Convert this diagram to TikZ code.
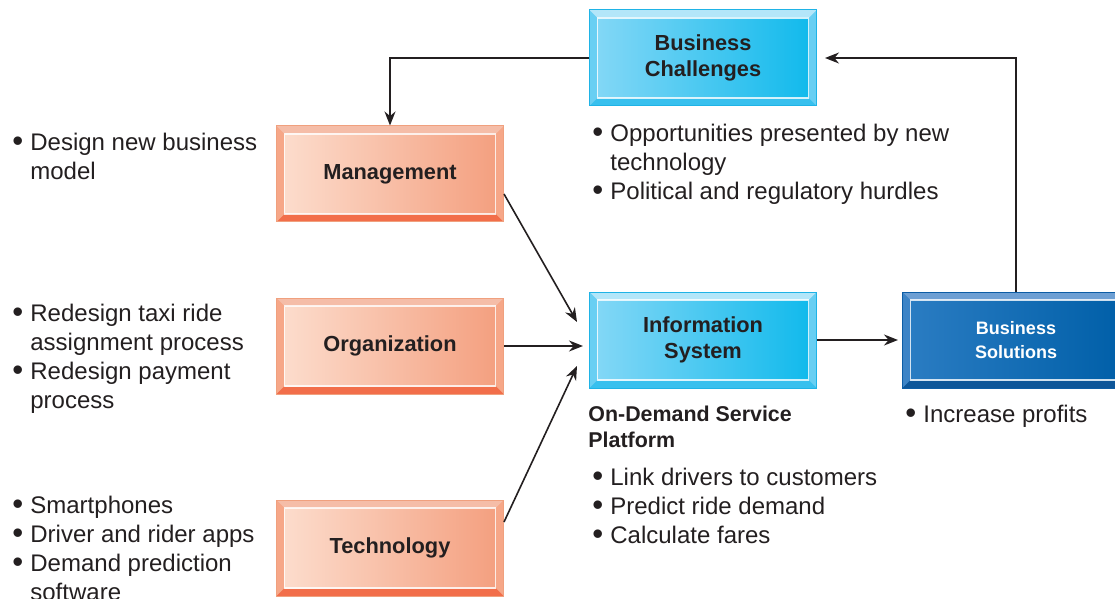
\documentclass[tikz,border=0pt]{standalone}
\usepackage{fontspec}
\setmainfont{Liberation Sans}
\usetikzlibrary{arrows.meta,positioning,calc}
\definecolor{inktext}{HTML}{231F20}
% salmon boxes
\definecolor{salmonL}{HTML}{FCDCCC}
\definecolor{salmonR}{HTML}{F4A080}
\definecolor{salmonTop}{HTML}{F5BDA8}
\definecolor{salmonBot}{HTML}{F26E4A}
\definecolor{salmonSide}{HTML}{F6A788}
\definecolor{salmonEdge}{HTML}{F0A07E}
% light blue boxes
\definecolor{skyL}{HTML}{82D7F6}
\definecolor{skyR}{HTML}{12BAEC}
\definecolor{skyTop}{HTML}{B3E6F9}
\definecolor{skyBot}{HTML}{38C0EE}
\definecolor{skySide}{HTML}{68CFF3}
\definecolor{skyEdge}{HTML}{1FB3E6}
% dark blue box
\definecolor{navyL}{HTML}{2A7CC2}
\definecolor{navyR}{HTML}{005FA8}
\definecolor{navyTop}{HTML}{6D9FD3}
\definecolor{navyBot}{HTML}{0D5699}
\definecolor{navySide}{HTML}{3D84C6}
\definecolor{navyEdge}{HTML}{0D5DA5}
\newcommand{\bl}{\makebox[9pt][l]{\smash{\raisebox{-0.6pt}{\scalebox{1.3}{\textbullet}}}}}
\newcommand{\ind}{\hspace*{9pt}}
\newcommand{\bodyfont}{\fontsize{12}{14.4}\selectfont}

\tikzset{
  bevelbox/.style n args={6}{draw=#6, line width=0.5pt, inner sep=2pt,
    minimum width=113.5pt, minimum height=48pt, align=center,
    font=\fontsize{10.9}{13}\selectfont\bfseries, text=inktext,
    path picture={
      \path (path picture bounding box.south west) coordinate (bsw)
            (path picture bounding box.north east) coordinate (bne);
      \fill[#5] (bsw) rectangle (bne);
      \fill[#3] (bsw |- bne) -- (bne) -- ([shift={(-4pt,-4pt)}]bne)
        -- ([shift={(4pt,-4pt)}]bsw |- bne) -- cycle;
      \fill[#4] (bsw) -- (bsw -| bne) -- ([shift={(-4pt,4pt)}]bsw -| bne)
        -- ([shift={(4pt,4pt)}]bsw) -- cycle;
      \shade[left color=#1, right color=#2]
        ([shift={(4pt,4pt)}]bsw) rectangle ([shift={(-4pt,-4pt)}]bne);
      \draw[white, line width=0.6pt, opacity=0.8]
        ([shift={(4pt,4pt)}]bsw) rectangle ([shift={(-4pt,-4pt)}]bne);
    }},
  salmonbox/.style={bevelbox={salmonL}{salmonR}{salmonTop}{salmonBot}{salmonSide}{salmonEdge}},
  bluebox/.style={bevelbox={skyL}{skyR}{skyTop}{skyBot}{skySide}{skyEdge}},
  darkbox/.style={bevelbox={navyL}{navyR}{navyTop}{navyBot}{navySide}{navyEdge},
    text=white, font=\fontsize{9}{12}\selectfont\bfseries},
  notes/.style={anchor=north west, inner sep=0pt, align=left, text=inktext,
    font=\bodyfont},
  arrow/.style={-{Stealth[length=7pt,width=5.5pt]}, line width=0.8pt, inktext}
}

\begin{document}
\begin{tikzpicture}[x=0.5pt,y=-0.5pt]
  \useasboundingbox (0,0) rectangle (1115,599);

  % boxes
  \node[bluebox] (chal) at (703,58) {Business\\Challenges};
  \node[salmonbox] (mgmt) at (390,174) {Management};
  \node[salmonbox] (org) at (390,346) {Organization};
  \node[salmonbox] (tech) at (390,548) {Technology};
  \node[bluebox] (info) at (703,340) {Information\\System};
  \node[darkbox] (sol) at (1016,340) {Business\\Solutions};

  % notes
  \node[notes] (mgmtnotes) at (12,133) {\bl Design new business\\\ind model};
  \node[notes] (orgnotes) at (12,304) {\bl Redesign taxi ride\\\ind assignment process\\
    \bl Redesign payment\\\ind process};
  \node[notes] (technotes) at (12,496) {\bl Smartphones\\\bl Driver and rider apps\\
    \bl Demand prediction\\\ind software};
  \node[notes] (chalnotes) at (592,124) {\bl Opportunities presented by new\\
    \ind technology\\\bl Political and regulatory hurdles};
  \node[notes, font=\fontsize{10.7}{13}\selectfont\bfseries] (platform) at (588,406)
    {On-Demand Service\\Platform};
  \node[notes] (infonotes) at (592,468) {\bl Link drivers to customers\\
    \bl Predict ride demand\\\bl Calculate fares};
  \node[notes] (solnotes) at (905,405) {\bl Increase profits};

  % connectors
  \draw[arrow] (chal.west) -| (mgmt.north);
  \draw[arrow] ([yshift=-10pt]mgmt.east) -- ([xshift=-6pt,yshift=9pt]info.west);
  \draw[arrow] (org.east) -- ([xshift=-3pt]org.east -| info.west);
  \draw[arrow] ([yshift=13pt]tech.east) -- ([xshift=-6pt,yshift=-13pt]info.west);
  \draw[arrow] (info.east) -- ([xshift=-2pt]sol.west);
  \draw[arrow] (sol.north) |- ([xshift=4pt]chal.east);
\end{tikzpicture}
\end{document}
